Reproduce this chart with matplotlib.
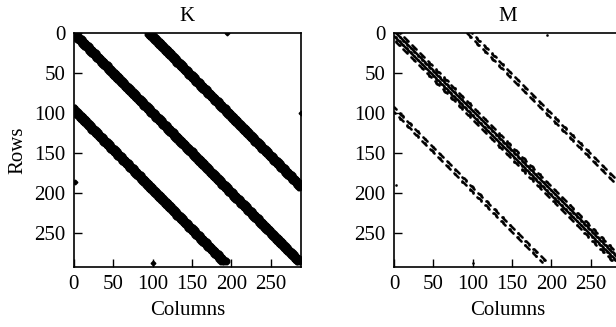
import numpy as np
import matplotlib
matplotlib.use("Agg")
import matplotlib.pyplot as plt

plt.rcParams['font.family'] = ['Liberation Serif', 'DejaVu Serif']

size = 290
ticks = [0, 50, 100, 150, 200, 250]
titles = ["K", "M"]

# K: 3x3 node blocks, node neighbours in the main and the far bands
K_dof = 3
K_links = [-1, 0, 1]
K_far = 32                 # nodes -> 96 rows
K_extra = [(0, 195), (100, 288), (187, 2), (288, 100)]

# M: diagonals (offset from main diagonal), solid or dashed
M_solid = [-3, 3]
M_dashed = [-8, 8]
M_far_dashed = [93, 99, -93, -99]
dash_period = 10
dash_on = 6
M_extra = [(2, 195), (190, 2), (288, 100)]


def build_K():
    A = np.zeros((size, size))
    nn = 288 // K_dof
    for a in range(nn):
        for shift in [0, K_far, -K_far]:
            for l in K_links:
                b = a + shift + l
                if 0 <= b < nn:
                    A[a * K_dof:(a + 1) * K_dof, b * K_dof:(b + 1) * K_dof] = 1
    for r, c in K_extra:
        A[r, c] = 1
    return A


def build_M():
    A = np.zeros((size, size))
    for i in range(288):
        for d in M_solid:
            if 0 <= i + d < 288:
                A[i, i + d] = 1
        # dashed diagonals, neighbours staggered by half a period
        for k, d in enumerate(M_dashed + M_far_dashed):
            ph = (k % 2) * 5
            if (i + ph) % dash_period < dash_on and 0 <= i + d < 288:
                A[i, i + d] = 1
    for r, c in M_extra:
        A[r, c] = 1
    return A


fig = plt.figure(figsize=(6.16, 3.27), dpi=100)
ax1 = fig.add_axes([0.120, 0.184, 0.368, 0.714])
ax2 = fig.add_axes([0.6396, 0.184, 0.368, 0.714])

ax1.spy(build_K(), marker='D', markersize=2.4, color='black')
ax2.spy(build_M(), marker='s', markersize=0.8, color='black')

for ax, name in zip([ax1, ax2], titles):
    ax.set_aspect('auto')
    ax.xaxis.set_ticks_position('bottom')
    ax.xaxis.set_label_position('bottom')
    ax.set_xlim(0, 288)
    ax.set_ylim(293, 0)
    ax.set_xticks(ticks)
    ax.set_yticks(ticks)
    ax.tick_params(direction='in', length=6, width=1, labelsize=15, pad=6,
                   top=False, right=False)
    for s in ax.spines.values():
        s.set_linewidth(1.2)
    ax.set_title(name, fontsize=15, pad=9)
    ax.set_xlabel("Columns", fontsize=15, labelpad=5)

ax1.set_ylabel("Rows", fontsize=15, labelpad=5)

fig.savefig("out.png", dpi=100)
